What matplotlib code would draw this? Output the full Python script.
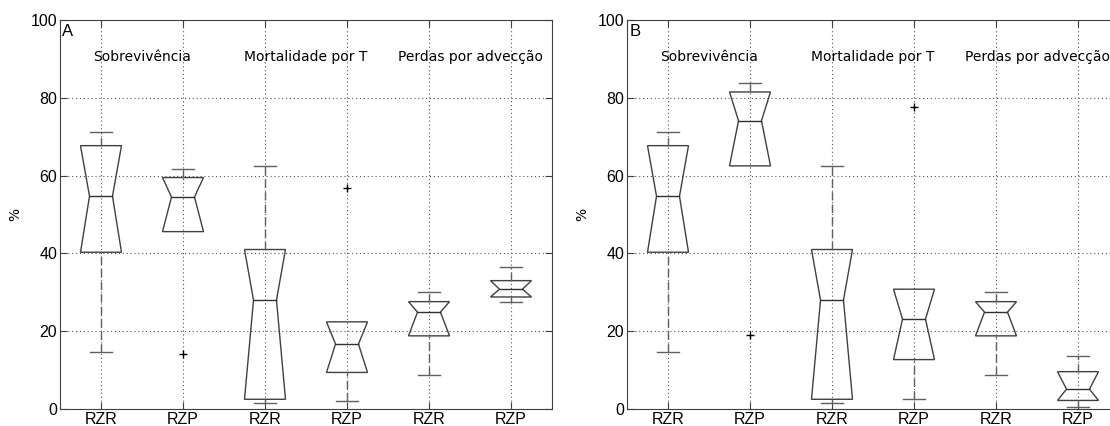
import numpy as np
import matplotlib.pyplot as plt
from matplotlib.patches import Polygon

# box stats: upper whisker, Q3, median, Q1, lower whisker
labels = ['RZR', 'RZP', 'RZR', 'RZP', 'RZR', 'RZP']
groups = ['Sobrevivência', 'Mortalidade por T', 'Perdas por advecção']

a_whi = [71.3, 61.6, 62.4, 22.4, 30.0, 36.5]
a_q3  = [67.7, 59.5, 41.0, 22.4, 27.6, 33.0]
a_med = [54.7, 54.5, 28.0, 16.7, 24.9, 30.8]
a_q1  = [40.3, 45.6, 2.5, 9.4, 18.8, 28.8]
a_wlo = [14.7, 45.6, 1.5, 2.1, 8.8, 27.4]
a_out = [None, 14.1, None, 56.9, None, None]

b_whi = [71.3, 83.7, 62.4, 30.8, 30.0, 13.7]
b_q3  = [67.7, 81.5, 41.0, 30.8, 27.6, 9.6]
b_med = [54.7, 74.1, 28.0, 23.1, 24.9, 5.1]
b_q1  = [40.3, 62.5, 2.5, 12.7, 18.8, 2.2]
b_wlo = [14.7, 62.5, 1.5, 2.6, 8.8, 0.4]
b_out = [None, 19.1, None, 77.6, None, None]

W = 1110
H = 426
fig = plt.figure(figsize=(W / 100, H / 100), dpi=100)

box_c = '#404040'
wh_c = '#606060'


def draw_panel(ax, whi, q3, med, q1, wlo, out, letter):
    for i in range(6):
        x = i + 1
        w, wn, wc = 0.25, 0.14, 0.13
        poly = Polygon([(x - w, q3[i]), (x + w, q3[i]), (x + wn, med[i]),
                        (x + w, q1[i]), (x - w, q1[i]), (x - wn, med[i])],
                       closed=True, fill=False, ec=box_c, lw=1.0, zorder=3)
        ax.add_patch(poly)
        ax.plot([x - wn, x + wn], [med[i], med[i]], color='#303030', lw=1.0, zorder=3)
        if whi[i] > q3[i]:
            ax.plot([x, x], [q3[i], whi[i]], color=wh_c, lw=1.0, ls=(0, (6, 3)), zorder=3)
            ax.plot([x - wc, x + wc], [whi[i], whi[i]], color=wh_c, lw=1.0, zorder=3)
        if wlo[i] < q1[i]:
            ax.plot([x, x], [wlo[i], q1[i]], color=wh_c, lw=1.0, ls=(0, (6, 3)), zorder=3)
            ax.plot([x - wc, x + wc], [wlo[i], wlo[i]], color=wh_c, lw=1.0, zorder=3)
        if out[i] is not None:
            ax.plot(x, out[i], marker='+', color='k', ms=6, mew=1.0, zorder=4)

    ax.set_xlim(0.5, 6.5)
    ax.set_ylim(0, 100)
    ax.set_xticks(range(1, 7))
    ax.set_xticklabels(labels, family='Liberation Sans', fontsize=11.5)
    ax.set_yticks([0, 20, 40, 60, 80, 100])
    for t in ax.get_yticklabels():
        t.set_family('Liberation Sans')
        t.set_fontsize(11.5)
    ax.tick_params(direction='in', top=True, right=True, length=5, color='#404040', pad=2)
    ax.grid(True, ls=(0, (1, 2.5)), color='#555555', lw=0.8)
    ax.set_axisbelow(True)
    for s in ax.spines.values():
        s.set_color('#404040')
    ax.set_ylabel('%', fontsize=10, labelpad=6)
    for k, g in enumerate(groups):
        ax.text(1.5 + 2 * k, 90.5, g, ha='center', va='center', fontsize=10)
    ax.text(0.53, 97, letter, ha='left', va='center', fontsize=12, family='Liberation Sans')


ax1 = fig.add_axes([60 / W, (H - 409) / H, 492 / W, 389 / H])
draw_panel(ax1, a_whi, a_q3, a_med, a_q1, a_wlo, a_out, 'A')

ax2 = fig.add_axes([627 / W, (H - 409) / H, 492 / W, 389 / H])
draw_panel(ax2, b_whi, b_q3, b_med, b_q1, b_wlo, b_out, 'B')

fig.savefig('out.png', dpi=100)
